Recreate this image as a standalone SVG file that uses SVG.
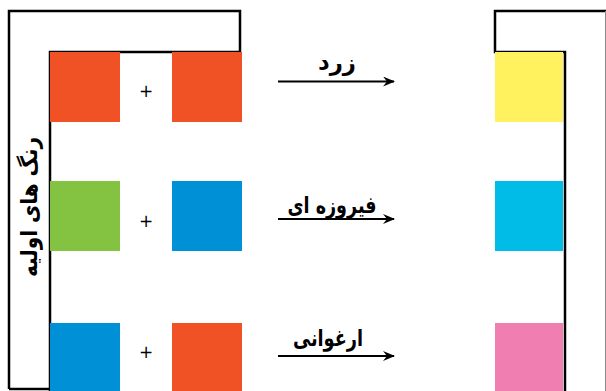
<svg xmlns="http://www.w3.org/2000/svg" width="606" height="391" viewBox="0 0 606 391">
<defs>
<style>
.frame{fill:none;stroke:#000;stroke-width:2.5}
.plus{font-family:"DejaVu Sans",sans-serif;font-size:17px;fill:#000;text-anchor:middle}
.lbl{font-family:"DejaVu Sans",sans-serif;font-weight:bold;font-size:23px;fill:#000;text-anchor:middle}
.arr{stroke:#000;stroke-width:2;fill:none}
</style>
<marker id="ah" markerWidth="12" markerHeight="10" refX="11" refY="5" orient="auto" markerUnits="userSpaceOnUse">
<path d="M0,0 L12,5 L0,10 L4,5 Z" fill="#000"/>
</marker>
</defs>
<rect width="606" height="391" fill="#fff"/>
<g id="left-frame">
<path class="frame" d="M9,389 V11 H240 V52 H50 V391 M9,389 H50"/>
<text class="lbl" transform="translate(29,207) rotate(-90)" dy="8" direction="rtl" textLength="140" lengthAdjust="spacingAndGlyphs">رنگ های اولیه</text>
</g>
<g id="right-frame">
<path class="frame" d="M607,11 H495 V52 H565 V391"/>
<line x1="605.5" y1="11" x2="605.5" y2="391" stroke="#888" stroke-width="1"/>
</g>
<g id="row1">
<rect x="50" y="52" width="70" height="70" fill="#F15225"/>
<text class="plus" x="146" y="97">+</text>
<rect x="172" y="52" width="70" height="70" fill="#F15225"/>
<rect x="495" y="52" width="68" height="70" fill="#FFF25E"/>
</g>
<g id="row2">
<rect x="50" y="181" width="70" height="70" fill="#84C341"/>
<text class="plus" x="146" y="227">+</text>
<rect x="172" y="181" width="70" height="70" fill="#0090D6"/>
<rect x="495" y="181" width="68" height="70" fill="#00BCE6"/>
</g>
<g id="row3">
<rect x="50" y="323" width="70" height="68" fill="#0090D6"/>
<text class="plus" x="146" y="358">+</text>
<rect x="172" y="323" width="70" height="68" fill="#F15225"/>
<rect x="495" y="323" width="68" height="68" fill="#F07EB0"/>
</g>
<g id="connectors">
<line class="arr" x1="278" y1="81.5" x2="394" y2="81.5" marker-end="url(#ah)"/>
<line class="arr" x1="278" y1="219" x2="394" y2="219" marker-end="url(#ah)"/>
<line class="arr" x1="278" y1="356" x2="394" y2="356" marker-end="url(#ah)"/>
<text class="lbl" x="337" y="70" direction="rtl" textLength="38" lengthAdjust="spacingAndGlyphs">زرد</text>
<text class="lbl" x="332" y="213" direction="rtl" textLength="89" lengthAdjust="spacingAndGlyphs">فیروزه ای</text>
<text class="lbl" x="328" y="346" direction="rtl" textLength="70" lengthAdjust="spacingAndGlyphs">ارغوانی</text>
</g>
</svg>
